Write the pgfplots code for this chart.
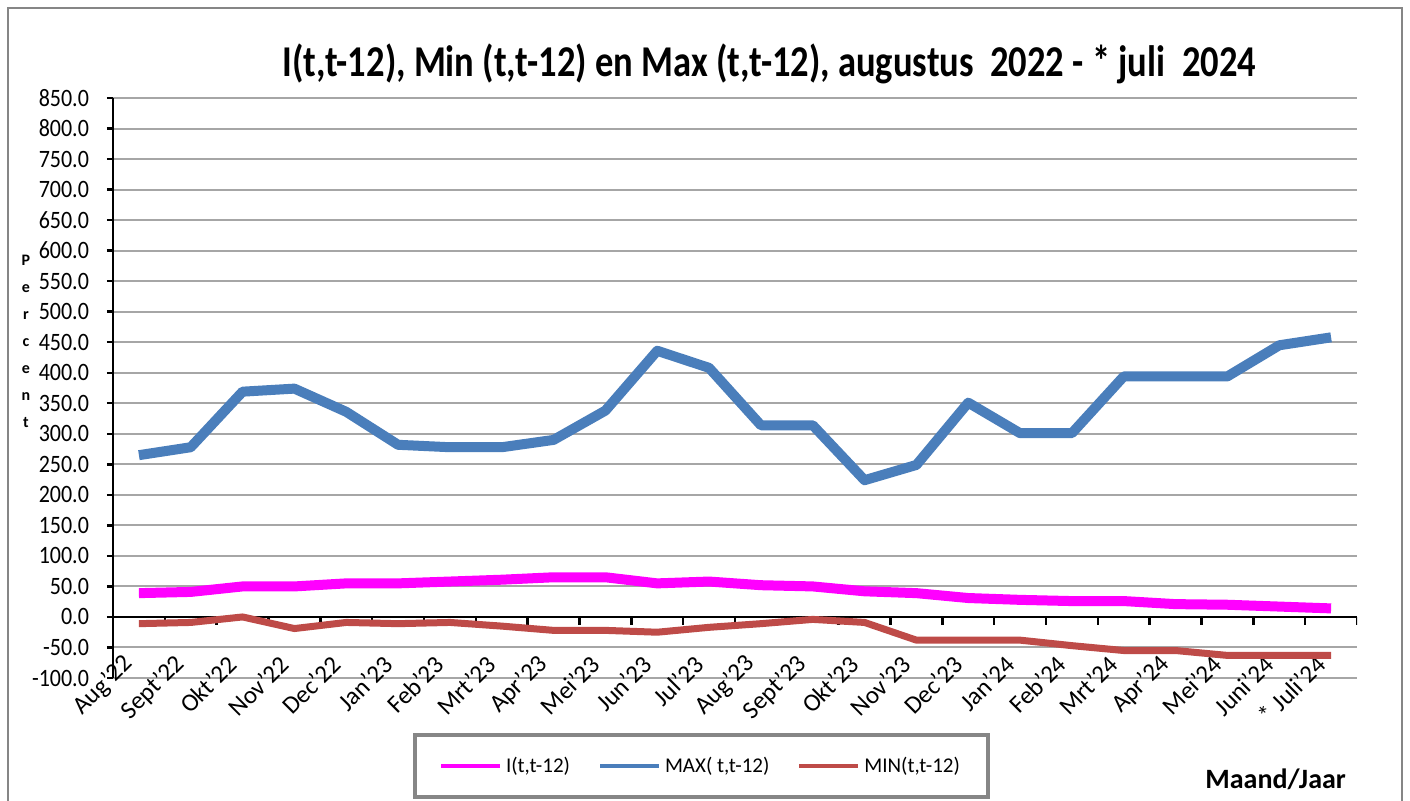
\documentclass[border=0pt]{standalone}
\usepackage{pgfplots}
\usepackage{pgfplotstable}
\pgfplotsset{compat=1.18}
\usepackage{fontspec}
\setmainfont{Carlito}
\newfontfamily\titlefont{Carlito}[FakeStretch=0.83]
\newfontfamily\tickfont{Carlito}[FakeStretch=0.88]
\definecolor{maxblue}{HTML}{4A7EBB}
\definecolor{minred}{HTML}{BE4B48}
\definecolor{imag}{HTML}{FF00FF}
\definecolor{gridgray}{HTML}{A6A6A6}
\definecolor{framegray}{HTML}{868686}
\pgfplotstableread{
idx MAX I MIN
0 265 39 -11
1 278 41 -9
2 369 50 0
3 374 50 -19
4 336 55 -9
5 282 55 -11
6 278 58 -9
7 278 61 -15
8 290 65 -22
9 338 65 -22
10 436 55 -25
11 408 58 -17
12 314 52 -11
13 314 50 -4
14 224 42 -9
15 249 39 -38
16 351 31 -38
17 301 28 -38
18 301 26 -47
19 394 26 -55
20 394 21 -55
21 394 20 -63
22 445 17 -63
23 458 14 -63
}\data
\begin{document}
\begin{tikzpicture}
\useasboundingbox (0,0) rectangle (705pt,400pt);
\draw[framegray, line width=1pt] (4pt,-5pt) rectangle (701pt,396pt);
\node[anchor=base, font=\titlefont\fontsize{22}{26}\selectfont\bfseries, inner sep=0pt] at (384.5pt,361.5pt)
  {I(t,t-12), Min (t,t-12) en Max (t,t-12), augustus\ \ 2022 - * juli\ \ 2024};
\foreach \l [count=\i] in {P,e,r,c,e,n,t}
  \node[anchor=base, font=\fontsize{8}{9}\selectfont\bfseries, inner sep=0pt] at (13pt,{(800-265-(\i-1)*27)*0.5pt}) {\l};
\node[anchor=base west, font=\fontsize{14}{16}\selectfont\bfseries, inner sep=0pt] at (602.5pt,6pt) {Maand/Jaar};
\begin{axis}[
  at={(56.5pt,61pt)}, anchor=south west,
  scale only axis, width=622pt, height=290pt,
  xmin=-0.5, xmax=23.5, ymin=-100, ymax=850,
  ytick distance=50,
  axis lines*=left,
  x axis line style={draw=none},
  y axis line style={black, line width=1.2pt},
  xtick=data,
  xtick style={draw=none},
  ytick style={black, line width=1.2pt},
  tick align=outside,
  major tick length=3pt,
  xticklabels={Aug'22,Sept'22,Okt'22,Nov'22,Dec'22,Jan'23,Feb'23,Mrt'23,Apr'23,Mei'23,Jun'23,Jul'23,Aug'23,Sept'23,Okt'23,Nov'23,Dec'23,Jan'24,Feb'24,Mrt'24,Apr'24,Mei'24,Juni'24,* Juli'24},
  xticklabel style={rotate=45, anchor=east, font=\fontsize{12.5}{14}\selectfont, xshift=5pt, yshift=12pt, inner sep=0pt},
  yticklabel style={font=\tickfont\fontsize{12.5}{14}\selectfont, xshift=-5.5pt, /pgf/number format/.cd, fixed, fixed zerofill, precision=1, assume math mode=true},
  ymajorgrids,
  grid style={gridgray, line width=1pt},
  legend columns=3,
  legend style={at={(0.2412,-0.0948)}, anchor=north west, draw=framegray, line width=2pt,
    font=\fontsize{10.5}{12}\selectfont, inner xsep=12pt, inner ysep=9pt,
    /tikz/every even column/.append style={column sep=12pt}},
  legend image code/.code={\draw[#1, line width=2pt] (0pt,0pt) -- (29.5pt,0pt);},
]
\draw[black, line width=1.3pt] (axis cs:-0.5,0) -- (axis cs:23.5,0);
\pgfplotsinvokeforeach{-0.5,0.5,...,23.5}{\draw[black, line width=1.2pt] (axis cs:#1,0) -- ([yshift=-4pt]axis cs:#1,0);}
\addplot[imag, line width=5pt, line join=round] table[x=idx,y=I]{\data};
\addlegendentry{I(t,t-12)}
\addplot[maxblue, line width=5pt, line join=round] table[x=idx,y=MAX]{\data};
\addlegendentry{MAX( t,t-12)}
\addplot[minred, line width=3.5pt, line join=round] table[x=idx,y=MIN]{\data};
\addlegendentry{MIN(t,t-12)}
\end{axis}
\end{tikzpicture}
\end{document}
